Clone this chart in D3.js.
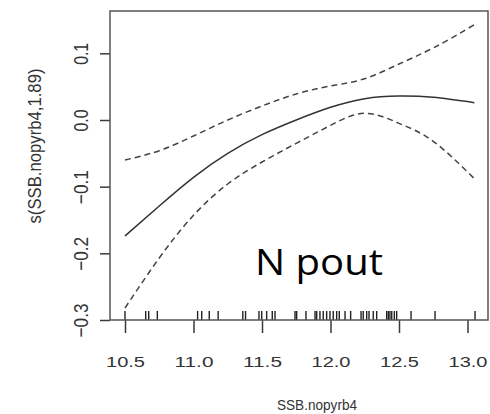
<!DOCTYPE html>
<html>
<head>
<meta charset="utf-8">
<script src="https://cdn.jsdelivr.net/npm/d3@7"></script>
<style>
    html, body { margin: 0; padding: 0; background: #fff; }
    svg { display: block; }
</style>
</head>
<body>
<svg id="chart"></svg>
<script>
// smooth term of the gam
var xGrid = [10.5, 10.75, 11.0, 11.25, 11.5, 11.75, 12.0, 12.25, 12.5, 12.75, 13.05];
var fitValues = [-0.174, -0.129, -0.086, -0.05, -0.022, 0.0, 0.019, 0.032, 0.036, 0.034, 0.026];
var upperValues = [-0.06, -0.046, -0.024, 0.0, 0.021, 0.039, 0.051, 0.062, 0.084, 0.108, 0.143];
var lowerValues = [-0.282, -0.207, -0.143, -0.096, -0.063, -0.035, -0.008, 0.01, -0.005, -0.032, -0.088];

// rug of observed SSB values
var rugValues = [10.5, 10.651, 10.673, 10.736, 11.03, 11.06, 11.115, 11.18, 11.36, 11.38,
    11.478, 11.498, 11.534, 11.575, 11.595, 11.741, 11.753, 11.821, 11.887, 11.899,
    11.923, 11.947, 11.972, 11.996, 12.02, 12.045, 12.064, 12.106, 12.147, 12.223,
    12.239, 12.264, 12.281, 12.312, 12.337, 12.41, 12.422, 12.434, 12.447, 12.466,
    12.483, 12.588, 12.763, 13.055];

// axis ticks and labels
var xTicks = [10.5, 11.0, 11.5, 12.0, 12.5, 13.0];
var yTicks = [-0.3, -0.2, -0.1, 0.0, 0.1];
var xTitle = "SSB.nopyrb4";
var yTitle = "s(SSB.nopyrb4,1.89)";
var panelLabel = "N pout";

var width = 490, height = 414;
var box = { left: 110, right: 488, top: 11, bottom: 320 };
var ink = "#3a3a3a";

var svg = d3.select("#chart")
    .attr("width", width)
    .attr("height", height)
    .attr("viewBox", "0 0 " + width + " " + height);

svg.append("rect")
    .attr("width", width)
    .attr("height", height)
    .style("fill", "#fff");

var x = d3.scaleLinear().domain([10.3905, 13.1496]).range([box.left, box.right]);
var y = d3.scaleLinear().domain([-0.3, 0.1635]).range([box.bottom, box.top]);

// x axis ticks and labels (R output is stretched sideways, so labels get a fixed length)
var xAxis = svg.append("g")
    .attr("transform", "translate(0," + box.bottom + ")")
    .call(d3.axisBottom(x).tickValues(xTicks).tickSize(13).tickFormat(d3.format(".1f")));
xAxis.select(".domain").remove();
xAxis.selectAll(".tick line").style("stroke", ink).style("stroke-width", 1.5);
xAxis.selectAll(".tick text")
    .attr("y", 46.7)
    .attr("dy", null)
    .attr("textLength", 39)
    .attr("lengthAdjust", "spacingAndGlyphs")
    .style("font-family", "'Liberation Sans', Arial, sans-serif")
    .style("font-size", "15px")
    .style("fill", "#333");

// y axis ticks and rotated labels
var yAxis = svg.append("g")
    .attr("transform", "translate(" + box.left + ",0)")
    .call(d3.axisLeft(y).tickValues(yTicks).tickSize(10).tickFormat(d3.format(".1f")));
yAxis.select(".domain").remove();
yAxis.selectAll(".tick line").style("stroke", ink).style("stroke-width", 1.5);
yAxis.selectAll(".tick text")
    .attr("x", null)
    .attr("dy", null)
    .attr("transform", "translate(-22,0) rotate(-90)")
    .attr("text-anchor", "middle")
    .attr("textLength", function(d) { return d < 0 ? 34 : 22; })
    .attr("lengthAdjust", "spacingAndGlyphs")
    .style("font-family", "'Liberation Sans', Arial, sans-serif")
    .style("font-size", "21px")
    .style("fill", "#333");

// axis titles
svg.append("text")
    .attr("x", 317)
    .attr("y", 410)
    .attr("text-anchor", "middle")
    .attr("textLength", 80)
    .attr("lengthAdjust", "spacingAndGlyphs")
    .style("font-family", "'Liberation Sans', Arial, sans-serif")
    .style("font-size", "14px")
    .style("fill", "#333")
    .text(xTitle);

svg.append("text")
    .attr("transform", "translate(41,146) rotate(-90)")
    .attr("text-anchor", "middle")
    .attr("textLength", 155)
    .attr("lengthAdjust", "spacingAndGlyphs")
    .style("font-family", "'Liberation Sans', Arial, sans-serif")
    .style("font-size", "19px")
    .style("fill", "#333")
    .text(yTitle);

// rug along the bottom
svg.append("g").selectAll("line")
    .data(rugValues)
    .enter()
    .append("line")
    .attr("x1", function(d) { return x(d); })
    .attr("x2", function(d) { return x(d); })
    .attr("y1", box.bottom)
    .attr("y2", box.bottom - 9)
    .style("stroke", "#222")
    .style("stroke-width", 1.4);

// fit and confidence band
var line = d3.line()
    .x(function(d) { return x(d[0]); })
    .y(function(d) { return y(d[1]); })
    .curve(d3.curveNatural);

function pairs(vals) {
    return xGrid.map(function(v, i) { return [v, vals[i]]; });
}

svg.append("path")
    .attr("d", line(pairs(fitValues)))
    .style("fill", "none")
    .style("stroke", "#333")
    .style("stroke-width", 1.5);

[upperValues, lowerValues].forEach(function(vals) {
    svg.append("path")
        .attr("d", line(pairs(vals)))
        .style("fill", "none")
        .style("stroke", "#444")
        .style("stroke-width", 1.5)
        .style("stroke-dasharray", "6,4");
});

// plot frame
svg.append("rect")
    .attr("x", box.left)
    .attr("y", box.top)
    .attr("width", box.right - box.left)
    .attr("height", box.bottom - box.top)
    .style("fill", "none")
    .style("stroke", "#555")
    .style("stroke-width", 1.5);

// panel label pasted on top
svg.append("text")
    .attr("x", 255)
    .attr("y", 275)
    .attr("textLength", 128)
    .attr("lengthAdjust", "spacingAndGlyphs")
    .style("font-family", "'Open Sans', 'Noto Sans', sans-serif")
    .style("font-size", "37px")
    .style("fill", "#000")
    .text(panelLabel);
</script>
</body>
</html>
